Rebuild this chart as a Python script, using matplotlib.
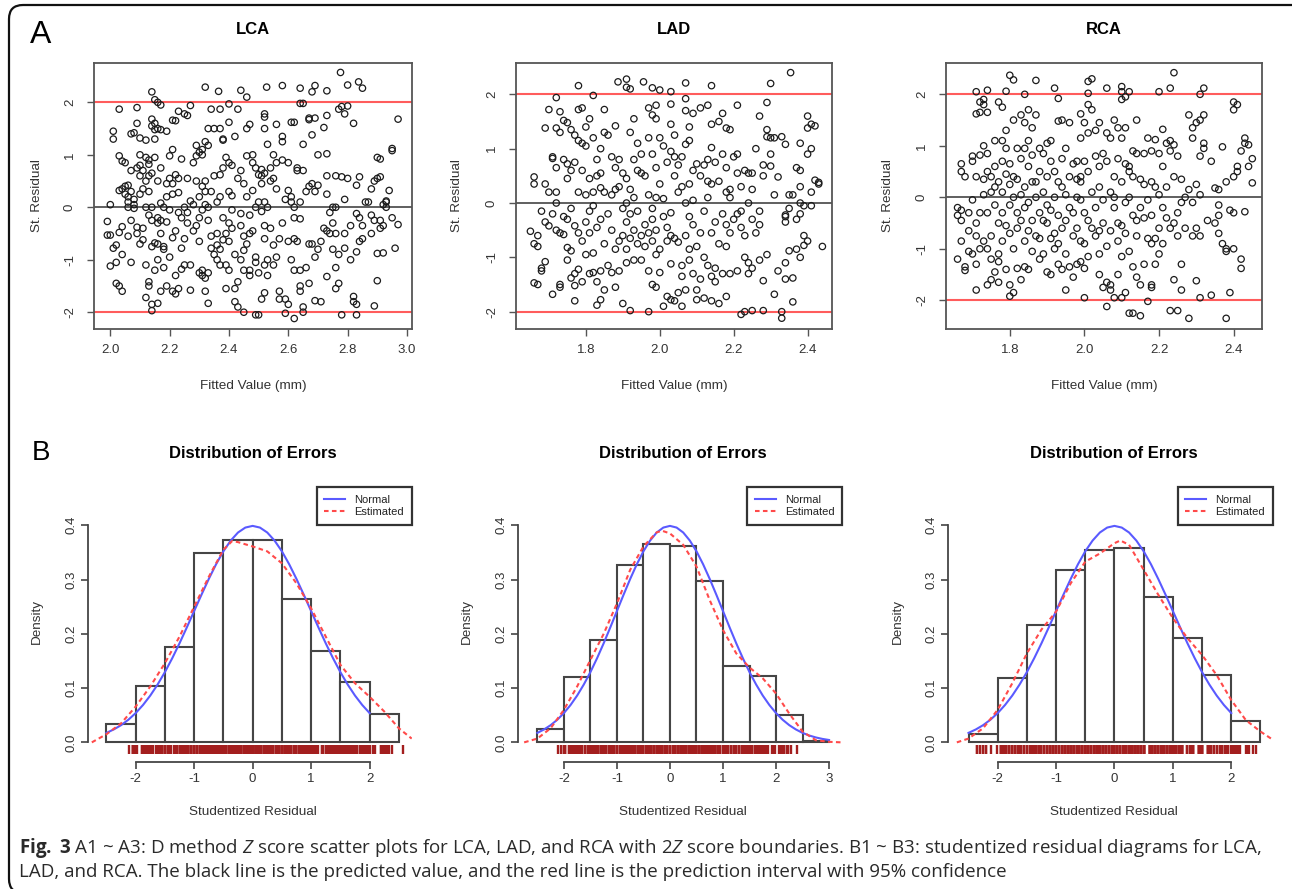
import numpy as np
import matplotlib
matplotlib.use('Agg')
import matplotlib.pyplot as plt
from matplotlib.patches import FancyBboxPatch
from matplotlib.transforms import IdentityTransform

plt.rcParams['font.family'] = ['Liberation Sans', 'DejaVu Sans']
plt.rcParams['axes.unicode_minus'] = False
plt.rcParams['mathtext.fontset'] = 'custom'
plt.rcParams['mathtext.rm'] = 'Open Sans'
plt.rcParams['mathtext.it'] = 'Open Sans:italic'
plt.rcParams['mathtext.bf'] = 'Open Sans:bold'

# ---- A panels: (fitted value, standardized residual) ----
lca_pts = [
    (2.14, 2.20), (2.15, 2.05), (2.16, 2.00), (2.17, 1.95), (2.03, 1.87), (2.09, 1.90), (2.23, 1.83), (2.25, 1.78),
    (2.26, 1.75), (2.27, 1.94), (2.32, 2.29), (2.365, 2.21), (2.34, 1.87), (2.37, 1.87), (2.40, 1.97), (2.43, 1.87),
    (2.44, 2.23), (2.46, 2.10), (2.527, 2.29), (2.58, 2.32), (2.64, 2.27), (2.65, 1.98), (2.64, 1.98), (2.69, 2.32),
    (2.68, 2.20), (2.73, 2.22), (2.776, 2.57), (2.80, 2.33), (2.837, 2.39), (2.85, 2.27), (2.78, 1.92), (2.79, 1.78),
    (2.80, 1.93), (2.77, 1.87), (2.82, 1.60), (2.97, 1.68), (2.73, 1.75), (2.72, 1.52), (2.69, 1.70), (2.67, 1.70),
    (2.67, 1.67), (2.62, 1.62), (2.61, 1.62), (2.52, 1.78), (2.52, 1.72), (2.52, 1.50), (2.56, 1.58), (2.47, 1.58),
    (2.46, 1.50), (2.40, 1.62), (2.35, 1.50), (2.33, 1.50), (2.37, 1.50), (2.21, 1.66), (2.22, 1.65), (2.19, 1.45),
    (2.14, 1.68), (2.15, 1.60), (2.14, 1.55), (2.16, 1.50), (2.15, 1.48), (2.17, 1.48), (2.09, 1.60), (2.01, 1.45),
    (2.01, 1.30), (2.07, 1.40), (2.08, 1.42), (2.10, 1.32), (2.12, 1.28), (2.15, 1.30),
    (2.00, 0.05), (1.99, -0.27), (1.99, -0.53), (2.00, -0.53), (2.01, -0.78), (2.00, -1.12), (2.02, -1.05), (2.02, -0.72),
    (2.03, -0.48), (2.02, -1.45), (2.03, -1.50), (2.04, -1.60), (2.03, 0.98), (2.04, 0.88), (2.03, 0.32), (2.04, 0.35),
    (2.04, -0.37), (2.04, -0.90), (2.05, 0.25), (2.05, 0.40),
    (2.05, 0.85), (2.06, 0.20), (2.06, 0.10), (2.06, 0.00), (2.06, 0.42), (2.06, -0.55), (2.07, 0.30), (2.07, 0.70),
    (2.08, 0.05), (2.07, -0.25), (2.07, -1.05), (2.08, 0.15), (2.09, 0.75), (2.09, -0.50), (2.08, -0.02), (2.10, 0.80),
    (2.10, 1.00), (2.09, -0.38),
    (2.10, 0.60), (2.11, 0.70), (2.10, 0.25), (2.11, -0.40), (2.11, -0.62), (2.10, -0.70), (2.12, 0.00), (2.12, -1.10),
    (2.12, -1.72), (2.13, -1.42), (2.13, -1.50), (2.14, -1.85), (2.14, -1.97), (2.12, 0.95), (2.13, 0.90), (2.13, 0.82),
    (2.13, 0.60), (2.13, 0.30), (2.13, -0.15), (2.14, 0.00), (2.14, -0.25), (2.14, -0.75), (2.12, 0.50), (2.11, 0.35),
    (2.14, 0.65), (2.15, -0.68),
    (2.15, 0.95), (2.16, 0.50), (2.16, -0.20), (2.16, -0.30), (2.16, -0.70), (2.15, -1.20), (2.16, -1.00), (2.17, 0.75),
    (2.17, 0.08), (2.17, -0.50), (2.18, -0.75), (2.18, -0.80), (2.18, -1.15), (2.17, -1.60), (2.16, -1.83), (2.19, -1.50),
    (2.19, 0.45), (2.19, 0.20), (2.19, -0.28), (2.20, -0.05), (2.20, 0.98), (2.20, 0.55), (2.20, -0.95), (2.18, 0.00),
    (2.17, -0.25),
    (2.21, 1.10), (2.21, 0.25), (2.21, -0.58), (2.22, -1.30), (2.21, -1.60), (2.22, -1.65), (2.23, -1.55), (2.22, 0.62),
    (2.23, 0.55), (2.23, 0.28), (2.23, -0.10), (2.24, -0.20), (2.24, -0.78), (2.25, -0.60), (2.25, -1.10), (2.24, -1.18),
    (2.24, 0.92), (2.25, 0.00), (2.22, -0.45), (2.21, 0.45),
    (2.26, -0.10), (2.26, -0.30), (2.27, 0.12), (2.27, -1.10), (2.28, -0.45), (2.29, -0.35), (2.28, 0.85), (2.29, 0.50),
    (2.29, 1.18), (2.29, 0.98), (2.30, 1.05), (2.30, 0.20), (2.28, 0.05), (2.27, -1.58), (2.30, -1.25), (2.30, -0.20),
    (2.26, 0.55), (2.30, -0.65),
    (2.31, 1.00), (2.31, 1.10), (2.32, 1.25), (2.32, 0.50), (2.31, 0.40), (2.32, 0.05), (2.33, -0.25), (2.31, -1.20),
    (2.31, -1.30), (2.32, -1.35), (2.33, -1.25), (2.32, -1.60), (2.33, -1.83), (2.33, 0.00), (2.34, 0.30), (2.34, -0.55),
    (2.34, -0.78), (2.33, 1.18), (2.35, 0.60), (2.35, -0.90), (2.31, -0.05), (2.32, 0.30),
    (2.36, 0.10), (2.36, -0.50), (2.36, -0.72), (2.37, -0.80), (2.37, -1.10), (2.36, -1.00), (2.37, 0.20), (2.37, 0.62),
    (2.38, 1.28), (2.38, 1.30), (2.38, 0.75), (2.38, -0.20), (2.39, -0.50), (2.39, -1.10), (2.39, -1.55), (2.38, -0.62),
    (2.39, 0.95), (2.40, 0.85), (2.40, 0.30), (2.40, -0.30), (2.40, -0.65), (2.40, -1.20),
    (2.41, 0.22), (2.41, -0.05), (2.41, -0.40), (2.41, 0.80), (2.42, 1.35), (2.42, -0.90), (2.42, -1.55), (2.43, -1.42),
    (2.42, -1.80), (2.43, -1.90), (2.44, 0.70), (2.44, -0.12), (2.44, -0.35), (2.43, 0.55), (2.45, 0.45), (2.45, -0.55),
    (2.45, -0.82), (2.45, -1.20), (2.45, -2.00), (2.44, -1.00),
    (2.46, 0.98), (2.46, 0.20), (2.46, -0.70), (2.47, -0.50), (2.47, -1.20), (2.47, -1.30), (2.48, 1.00), (2.48, 0.32),
    (2.48, -0.45), (2.49, -0.95), (2.49, -1.05), (2.49, -2.05), (2.49, 0.75), (2.50, 0.62), (2.50, 0.10), (2.50, -1.25),
    (2.50, -2.05), (2.48, 0.85), (2.47, -0.15), (2.49, 0.00),
    (2.51, 0.60), (2.51, 0.72), (2.52, 0.65), (2.51, 0.45), (2.52, 0.10), (2.51, -0.08), (2.52, -0.35), (2.52, -0.60),
    (2.52, -1.10), (2.53, -1.00), (2.53, -1.30), (2.52, -1.63), (2.51, -1.75), (2.53, 1.20), (2.54, 0.75), (2.54, 0.50),
    (2.53, 0.00), (2.54, -0.40), (2.55, -0.72), (2.55, -1.10), (2.55, 0.55), (2.55, 1.00),
    (2.56, 0.85), (2.56, 0.35), (2.57, -0.60), (2.56, -0.95), (2.57, -1.60), (2.57, -1.75), (2.58, -0.30), (2.58, 0.90),
    (2.58, 1.25), (2.58, 1.35), (2.59, -1.75), (2.59, -2.02), (2.60, 0.32), (2.59, 0.15), (2.60, 0.85), (2.60, -0.65),
    (2.60, -1.85),
    (2.61, 0.20), (2.61, 0.10), (2.62, -0.20), (2.62, -0.60), (2.62, -1.20), (2.61, -1.00), (2.62, -2.12), (2.63, 0.75),
    (2.63, 0.70), (2.63, -0.65), (2.64, -0.22), (2.64, 0.10), (2.64, -1.50), (2.64, -1.60), (2.65, -2.00), (2.65, -1.90),
    (2.64, -1.20), (2.65, 0.70), (2.65, 1.20), (2.62, 0.00),
    (2.66, 0.30), (2.66, -1.15), (2.67, 0.40), (2.67, -0.70), (2.67, -1.45), (2.68, 0.45), (2.68, 1.38), (2.68, -0.70),
    (2.69, -0.95), (2.69, -1.78), (2.69, 0.30), (2.70, 1.00), (2.70, 0.42), (2.70, -0.80),
    (2.71, -0.65), (2.71, -1.80), (2.72, -0.40), (2.73, 0.60), (2.73, 1.02), (2.73, -0.45), (2.73, -1.32), (2.73, 0.25),
    (2.74, -0.50), (2.74, -0.10), (2.75, -0.80), (2.75, 0.00),
    (2.75, -0.30), (2.76, 0.60), (2.76, 0.00), (2.76, -0.50), (2.76, -1.15), (2.76, -1.55), (2.77, -0.90), (2.77, -1.45),
    (2.78, 0.58), (2.78, -2.05), (2.79, 0.15), (2.79, -0.50), (2.79, -0.78), (2.80, 0.55),
    (2.81, -0.35), (2.81, -1.00), (2.82, -1.70), (2.82, -1.80), (2.83, -1.85), (2.83, -2.05), (2.83, -0.12), (2.83, -0.85),
    (2.83, 0.42), (2.84, 0.58), (2.84, -0.20), (2.84, -0.65), (2.85, -0.35), (2.85, -0.60),
    (2.86, 0.10), (2.87, 0.10), (2.88, -0.15), (2.88, -0.50), (2.88, 0.35), (2.89, 0.50), (2.89, -1.88), (2.89, -0.25),
    (2.90, 0.55), (2.90, 0.95), (2.90, -0.88), (2.90, -1.40),
    (2.91, 0.92), (2.91, 0.58), (2.91, -0.25), (2.91, -0.40), (2.92, 0.05), (2.92, -0.87), (2.92, -0.35), (2.93, 0.10),
    (2.93, 0.12), (2.93, 0.00), (2.94, 0.32), (2.95, 1.08), (2.95, 1.12), (2.95, -0.20), (2.96, -0.78), (2.97, -0.33),
]

lad_pts = [
    (1.78, 2.16), (1.72, 1.94), (1.82, 1.98), (1.887, 2.23), (1.91, 2.28), (1.91, 2.13), (1.92, 2.10), (1.956, 2.23),
    (1.98, 2.12), (2.00, 2.08), (2.03, 2.05), (2.07, 2.21), (2.07, 1.92), (2.14, 2.16), (2.30, 2.20), (2.354, 2.40),
    (2.29, 1.85),
    (1.65, -0.52), (1.66, 0.48), (1.66, 0.35), (1.66, -0.75), (1.66, -1.47), (1.67, -0.80), (1.67, -1.50), (1.67, -0.60),
    (1.68, -0.15), (1.68, -1.25), (1.68, -1.20), (1.69, 1.38), (1.69, 0.35), (1.69, -1.08), (1.69, -0.35), (1.70, 1.72),
    (1.70, 0.20), (1.70, -0.42),
    (1.71, 0.85), (1.71, 0.82), (1.71, -0.20), (1.71, -1.68), (1.72, 1.38), (1.72, 0.65), (1.72, 0.20), (1.72, 0.00),
    (1.72, -0.50), (1.73, 1.30), (1.73, 1.68), (1.73, -0.55), (1.73, -1.50), (1.73, -1.55), (1.74, 1.52), (1.74, 0.80),
    (1.74, -0.25), (1.74, -0.58), (1.75, 1.48), (1.75, 0.72), (1.75, 0.45), (1.75, -0.30), (1.75, -1.05), (1.75, -0.82),
    (1.76, 0.60), (1.76, -0.10), (1.76, -0.88), (1.76, -1.38), (1.77, 1.25), (1.77, 0.75), (1.77, -0.42), (1.77, -1.30),
    (1.77, -1.52), (1.77, -1.80), (1.78, 1.72), (1.78, 1.15), (1.78, 0.20), (1.78, -0.55), (1.78, -1.22), (1.79, 1.75),
    (1.79, 1.10), (1.79, -0.70), (1.79, -1.45), (1.80, 1.40), (1.80, 1.05), (1.80, 0.15), (1.80, -0.95), (1.80, -0.35),
    (1.79, 0.60), (1.76, 1.35),
    (1.81, 1.55), (1.81, 0.45), (1.81, -0.15), (1.81, -0.55), (1.81, -1.30), (1.82, 1.20), (1.82, 0.20), (1.82, -0.92),
    (1.82, -1.28), (1.83, 0.80), (1.83, 0.50), (1.83, -0.45), (1.83, -1.45), (1.83, -1.88), (1.84, 1.00), (1.84, 0.28),
    (1.84, -0.30), (1.84, -1.25), (1.84, -1.78), (1.85, 1.72), (1.85, 1.30), (1.85, 0.20), (1.85, -0.75), (1.85, -1.60),
    (1.84, 0.55), (1.82, -0.05),
    (1.86, 1.25), (1.86, -0.20), (1.86, -1.15), (1.87, 0.85), (1.87, 0.15), (1.87, -0.50), (1.87, -1.28), (1.88, 1.42),
    (1.88, 0.25), (1.88, -0.85), (1.88, -1.55), (1.89, 0.80), (1.89, 0.30), (1.89, -0.70), (1.89, -1.25), (1.90, 0.55),
    (1.90, -0.10), (1.90, -0.60), (1.90, -1.85), (1.88, 0.65),
    (1.91, 0.45), (1.91, 0.00), (1.91, -0.35), (1.91, -0.85), (1.91, -1.10), (1.92, 1.30), (1.92, 0.25), (1.92, -0.20),
    (1.92, -0.65), (1.92, -1.98), (1.93, 1.55), (1.93, 0.80), (1.93, -0.50), (1.93, -1.05), (1.94, 1.10), (1.94, 0.60),
    (1.94, -0.15), (1.94, -0.75), (1.95, 0.90), (1.95, 0.55), (1.95, -0.60), (1.95, -1.05), (1.93, 0.10),
    (1.96, 0.50), (1.96, -0.40), (1.96, -0.80), (1.97, 1.75), (1.97, 1.20), (1.97, 0.15), (1.97, -0.55), (1.97, -1.25),
    (1.97, -2.00), (1.98, 1.62), (1.98, 0.90), (1.98, -0.10), (1.98, -0.70), (1.98, -1.50), (1.99, 1.55), (1.99, 0.65),
    (1.99, 0.10), (1.99, -0.50), (1.99, -0.95), (1.99, -1.55), (2.00, 1.20), (2.00, 0.35), (2.00, -0.85), (2.00, -1.28),
    (1.99, 1.80), (1.98, -0.30),
    (2.01, 1.05), (2.01, 0.08), (2.01, -0.25), (2.01, -1.90), (2.02, 0.75), (2.02, -0.45), (2.02, -0.70), (2.02, -1.72),
    (2.03, 1.45), (2.03, 0.95), (2.03, -0.18), (2.03, -0.60), (2.03, -1.12), (2.03, -1.78), (2.04, 1.25), (2.04, 0.50),
    (2.04, -0.65), (2.04, -1.80), (2.05, 0.70), (2.05, 0.20), (2.05, -0.72), (2.05, -1.65), (2.04, 0.85), (2.03, 1.82),
    (2.06, 0.85), (2.06, 0.30), (2.06, -1.35), (2.06, -1.90), (2.06, -1.15), (2.07, 1.70), (2.07, 1.08), (2.07, 0.00),
    (2.07, -0.60), (2.07, -1.60), (2.08, 1.40), (2.08, 0.35), (2.08, -0.25), (2.08, -0.85), (2.08, -1.05), (2.09, 1.65),
    (2.09, 0.05), (2.09, -0.40), (2.09, -1.30), (2.10, 0.72), (2.10, -0.80), (2.10, -1.60), (2.10, -1.78), (2.08, 1.15),
    (2.09, 0.60),
    (2.11, 1.75), (2.11, 0.50), (2.11, -0.55), (2.11, -1.40), (2.12, 0.70), (2.12, -0.15), (2.12, -1.00), (2.12, -1.75),
    (2.13, 1.80), (2.13, 0.80), (2.13, 0.40), (2.13, -1.15), (2.14, 1.45), (2.14, 1.02), (2.14, 0.35), (2.14, -0.55),
    (2.14, -1.35), (2.15, 0.75), (2.15, -0.35), (2.15, -1.20), (2.15, -1.45), (2.14, -1.80), (2.13, 0.10),
    (2.16, 1.50), (2.16, 0.40), (2.16, -0.75), (2.16, -1.85), (2.17, 0.90), (2.17, -0.20), (2.17, -1.30), (2.18, 1.38),
    (2.18, 0.65), (2.18, 0.20), (2.18, -0.40), (2.18, -0.80), (2.18, -1.72), (2.19, 1.35), (2.19, 0.10), (2.19, -0.55),
    (2.19, -1.30), (2.20, 0.85), (2.20, -0.30), (2.17, 1.65), (2.19, 0.25),
    (2.21, 1.80), (2.21, 0.90), (2.21, 0.55), (2.21, -0.20), (2.21, -1.25), (2.22, 0.30), (2.22, -0.45), (2.22, -2.05),
    (2.22, -0.15), (2.23, 0.60), (2.23, -0.60), (2.23, -1.00), (2.23, -2.00), (2.24, 0.55), (2.24, 0.00), (2.24, -1.10),
    (2.25, 0.55), (2.25, 0.25), (2.25, -0.30), (2.25, -1.20), (2.25, -1.98), (2.24, -1.30),
    (2.26, -0.55), (2.26, 1.00), (2.27, 1.60), (2.27, -0.15), (2.27, -0.40), (2.27, -1.05), (2.28, 0.70), (2.28, 0.50),
    (2.28, -1.98), (2.28, -1.43), (2.29, 1.22), (2.29, -0.95), (2.30, 1.20), (2.30, 0.90), (2.30, 0.68), (2.29, 1.35),
    (2.31, 0.15), (2.31, -1.68), (2.31, 1.20), (2.32, -1.25), (2.32, 0.48), (2.33, 1.22), (2.33, -2.12), (2.33, -2.00),
    (2.34, 1.08), (2.34, -0.22), (2.34, -0.25), (2.34, -0.35), (2.34, -1.10), (2.34, -1.40), (2.35, 0.15), (2.35, -0.10),
    (2.35, -0.88),
    (2.36, 0.15), (2.36, -1.38), (2.36, -1.82), (2.37, 0.65), (2.37, -0.30), (2.37, -0.85), (2.38, 1.10), (2.38, 0.30),
    (2.38, 0.00), (2.38, -0.20), (2.38, -1.00), (2.38, 0.60), (2.39, -0.05), (2.39, -0.60), (2.39, -0.78), (2.40, 1.60),
    (2.40, 1.38), (2.40, -0.70), (2.40, 0.90), (2.41, 1.45), (2.41, 1.00), (2.41, 0.20), (2.41, -0.05), (2.42, 0.42),
    (2.42, 1.42), (2.43, 0.35), (2.43, 0.38), (2.44, -0.80),
]

rca_pts = [
    (1.80, 2.37), (1.81, 2.28), (1.87, 2.27), (1.71, 2.05), (1.74, 2.08), (1.72, 1.85), (1.73, 1.90), (1.79, 2.06),
    (1.84, 2.00), (1.92, 2.12), (1.93, 1.92), (2.01, 2.25), (2.02, 2.30), (2.01, 2.02), (2.06, 2.12), (2.10, 2.15),
    (2.10, 2.05), (2.11, 1.95), (2.10, 1.90), (2.12, 2.05), (2.20, 2.05), (2.23, 2.12), (2.24, 2.42), (2.31, 2.00),
    (2.32, 2.12), (2.40, 1.85), (2.41, 1.80), (2.40, 1.70),
    (1.66, -0.20), (1.66, -0.35), (1.66, -1.20), (1.67, 0.65), (1.67, 0.50), (1.67, -0.25), (1.67, -0.45), (1.67, -0.85),
    (1.68, 0.40), (1.68, -1.35), (1.68, -1.42), (1.69, -0.65), (1.69, -0.30), (1.69, -1.05), (1.70, 0.80), (1.70, 0.70),
    (1.70, -0.05), (1.70, -1.10),
    (1.71, 1.62), (1.71, 0.40), (1.71, -0.50), (1.71, -0.75), (1.71, -1.30), (1.71, -1.80), (1.72, 1.65), (1.72, 0.82),
    (1.72, -0.30), (1.72, -1.00), (1.73, 1.80), (1.73, 1.00), (1.73, 0.35), (1.73, 0.05), (1.73, -0.85), (1.74, 1.65),
    (1.74, 0.85), (1.74, 0.50), (1.74, -0.30), (1.74, -1.00), (1.74, -1.70), (1.75, 0.40), (1.75, 0.10), (1.75, -0.75),
    (1.75, -1.60), (1.75, -1.20),
    (1.76, 1.10), (1.76, 0.60), (1.76, 0.20), (1.76, -0.15), (1.76, -1.45), (1.77, 1.85), (1.77, 0.30), (1.77, -0.50),
    (1.77, -1.10), (1.77, -1.25), (1.77, -1.65), (1.78, 1.75), (1.78, 1.10), (1.78, 0.70), (1.78, 0.10), (1.78, -0.30),
    (1.78, -0.85), (1.79, 1.30), (1.79, 0.45), (1.79, -0.55), (1.79, -1.40), (1.80, 0.65), (1.80, 0.25), (1.80, -0.15),
    (1.80, -0.70), (1.80, -1.70), (1.80, -1.92), (1.79, 0.95),
    (1.81, 1.50), (1.81, 0.40), (1.81, 0.00), (1.81, -1.00), (1.81, -1.85), (1.82, 0.95), (1.82, 0.35), (1.82, -0.30),
    (1.82, -0.60), (1.82, -1.38), (1.83, 1.60), (1.83, 0.75), (1.83, 0.05), (1.83, -0.45), (1.83, -1.60), (1.84, 1.45),
    (1.84, 0.20), (1.84, -0.20), (1.84, -0.85), (1.84, -1.35), (1.85, 1.70), (1.85, 1.10), (1.85, 0.60), (1.85, -0.10),
    (1.85, -0.65), (1.85, -1.40), (1.84, 0.95),
    (1.86, 1.35), (1.86, 0.82), (1.86, 0.30), (1.86, -0.45), (1.86, -1.05), (1.87, 1.60), (1.87, 0.00), (1.87, -0.75),
    (1.88, 0.95), (1.88, 0.50), (1.88, -0.30), (1.88, -0.80), (1.88, -1.20), (1.89, 0.85), (1.89, 0.10), (1.89, -0.45),
    (1.89, -1.10), (1.90, 1.05), (1.90, 0.40), (1.90, -0.15), (1.90, -0.50), (1.90, -1.45), (1.87, 0.30),
    (1.91, 1.10), (1.91, 0.70), (1.91, -0.25), (1.91, -0.80), (1.91, -1.50), (1.92, 0.50), (1.92, 0.00), (1.92, -0.70),
    (1.92, -1.00), (1.93, 1.48), (1.93, 0.30), (1.93, -0.35), (1.93, -0.90), (1.93, -1.30), (1.94, 1.50), (1.94, 0.75),
    (1.94, 0.20), (1.94, -0.60), (1.94, -1.40), (1.95, 0.95), (1.95, 0.05), (1.95, -0.45), (1.95, -1.10), (1.95, -1.80),
    (1.96, 1.45), (1.96, 0.40), (1.96, -0.20), (1.96, -1.35), (1.97, 0.65), (1.97, -0.30), (1.97, -0.75), (1.97, -1.55),
    (1.98, 0.70), (1.98, 0.00), (1.98, -0.60), (1.98, -1.30), (1.99, 1.62), (1.99, 1.15), (1.99, 0.40), (1.99, 0.30),
    (1.99, -0.05), (1.99, -0.85), (1.99, -1.25), (2.00, 1.45), (2.00, 0.70), (2.00, -0.30), (2.00, -0.90), (2.00, -1.38),
    (2.00, -1.95), (1.98, 0.35),
    (2.01, 1.80), (2.01, 1.25), (2.01, 0.50), (2.01, -0.45), (2.01, -1.15), (2.02, 1.70), (2.02, 0.10), (2.02, -0.60),
    (2.03, 1.30), (2.03, 0.80), (2.03, -0.20), (2.03, -0.75), (2.04, 1.45), (2.04, 0.60), (2.04, 0.20), (2.04, -0.65),
    (2.04, -1.10), (2.04, -1.50), (2.05, 0.85), (2.05, -0.05), (2.05, -0.50), (2.05, -1.75),
    (2.06, 1.25), (2.06, 0.70), (2.06, -0.95), (2.06, -1.65), (2.06, -2.12), (2.07, 1.15), (2.07, 0.10), (2.07, -0.65),
    (2.07, -1.70), (2.07, -1.80), (2.08, 1.50), (2.08, 0.40), (2.08, -0.20), (2.08, -1.95), (2.09, 1.35), (2.09, 0.75),
    (2.09, -0.50), (2.09, -0.85), (2.09, -1.50), (2.10, 1.15), (2.10, 0.30), (2.10, -0.55), (2.10, -1.15), (2.10, -1.95),
    (2.08, 0.00),
    (2.11, 1.35), (2.11, 0.65), (2.11, -0.10), (2.11, -0.70), (2.11, -1.85), (2.12, 0.50), (2.12, 0.00), (2.12, -1.05),
    (2.12, -2.25), (2.13, 0.90), (2.13, 0.40), (2.13, -0.35), (2.13, -1.35), (2.13, -2.25), (2.14, 1.50), (2.14, 0.85),
    (2.14, -0.45), (2.14, -0.75), (2.14, -1.55), (2.15, 0.35), (2.15, -0.20), (2.15, -1.70), (2.15, -2.30), (2.12, 0.60),
    (2.16, 0.85), (2.16, 0.25), (2.16, -0.40), (2.16, -1.30), (2.17, 1.15), (2.17, -0.05), (2.17, -0.80), (2.17, -2.02),
    (2.18, 0.90), (2.18, 0.30), (2.18, -0.35), (2.18, -0.90), (2.18, -1.75), (2.19, 1.12), (2.19, 0.20), (2.19, -0.80),
    (2.19, -1.30), (2.20, 0.85), (2.20, 0.05), (2.20, -0.60), (2.20, -1.10), (2.18, -1.70),
    (2.21, 1.32), (2.21, 0.60), (2.21, -0.20), (2.21, -0.90), (2.22, 0.20), (2.22, -0.40), (2.22, 1.05), (2.23, 0.90),
    (2.23, -0.60), (2.23, -2.20), (2.23, 1.10), (2.24, 1.02), (2.24, 0.40), (2.24, -0.50), (2.24, -1.60), (2.25, 0.80),
    (2.25, -0.30), (2.25, -0.75), (2.25, -2.20),
    (2.26, 0.35), (2.26, -0.10), (2.26, -1.30), (2.26, -1.80), (2.27, 0.00), (2.27, -0.60), (2.28, 1.60), (2.28, 0.15),
    (2.28, -2.35), (2.29, 1.35), (2.29, 1.15), (2.29, -0.10), (2.29, -0.75), (2.30, 1.45), (2.30, 0.25), (2.30, -0.60),
    (2.30, -1.62),
    (2.31, 1.50), (2.31, 0.80), (2.31, 0.05), (2.31, -0.75), (2.31, -1.95), (2.32, 1.60), (2.32, 1.05), (2.32, 0.95),
    (2.33, -0.45), (2.34, 0.70), (2.34, -1.90), (2.35, 0.18), (2.35, -0.50),
    (2.36, 0.15), (2.36, -0.15), (2.36, -0.35), (2.36, -0.70), (2.37, -0.90), (2.37, 0.98), (2.38, -1.00), (2.38, -1.05),
    (2.38, 0.30), (2.38, -2.35), (2.39, -1.85), (2.39, -0.25), (2.40, -0.30), (2.40, 0.40), (2.40, -1.00), (2.41, 0.60),
    (2.41, 0.50), (2.42, -1.20), (2.42, -1.38), (2.42, 0.90), (2.43, 1.15), (2.43, 1.05), (2.43, -0.28), (2.44, 0.60),
    (2.44, 1.02), (2.45, 0.75), (2.45, 0.28),
]

# ---- B panels: histogram densities, kernel estimate, normal reference ----
lca_breaks = [-2.5, -2.0, -1.5, -1.0, -0.5, 0.0, 0.5, 1.0, 1.5, 2.0, 2.5]
lca_density = [0.034, 0.103, 0.175, 0.349, 0.372, 0.372, 0.265, 0.168, 0.112, 0.052]
lad_breaks = [-2.5, -2.0, -1.5, -1.0, -0.5, 0.0, 0.5, 1.0, 1.5, 2.0, 2.5, 3.0]
lad_density = [0.024, 0.120, 0.188, 0.326, 0.365, 0.362, 0.298, 0.141, 0.123, 0.050, 0.003]
rca_breaks = [-2.5, -2.0, -1.5, -1.0, -0.5, 0.0, 0.5, 1.0, 1.5, 2.0, 2.5]
rca_density = [0.015, 0.118, 0.217, 0.318, 0.354, 0.358, 0.267, 0.193, 0.124, 0.040]

lca_est_x = [-2.75, -2.5, -2.25, -2.0, -1.75, -1.5, -1.25, -1.0, -0.75, -0.5, -0.35, -0.25, 0.0, 0.25,
             0.5, 0.75, 1.0, 1.25, 1.5, 1.75, 2.0, 2.25, 2.5, 2.72]
lca_est_y = [0.0, 0.015, 0.035, 0.066, 0.103, 0.146, 0.195, 0.25, 0.305, 0.355, 0.371, 0.369, 0.361, 0.352,
             0.33, 0.293, 0.247, 0.195, 0.143, 0.109, 0.084, 0.057, 0.026, 0.007]
lad_est_x = [-2.75, -2.5, -2.25, -2.0, -1.75, -1.5, -1.25, -1.0, -0.75, -0.5, -0.25, -0.15, 0.0, 0.25,
             0.5, 0.75, 1.0, 1.25, 1.5, 1.75, 2.0, 2.25, 2.5, 2.75, 3.0, 3.25]
lad_est_y = [0.0, 0.007, 0.026, 0.06, 0.103, 0.152, 0.2, 0.256, 0.318, 0.361, 0.387, 0.39, 0.385, 0.364,
             0.324, 0.262, 0.207, 0.164, 0.138, 0.118, 0.09, 0.053, 0.02, 0.004, 0.001, 0.0]
rca_est_x = [-2.7, -2.5, -2.25, -2.0, -1.75, -1.5, -1.25, -1.0, -0.75, -0.5, -0.25, 0.0, 0.1, 0.25,
             0.5, 0.75, 1.0, 1.25, 1.5, 1.75, 2.0, 2.25, 2.5, 2.71]
rca_est_y = [0.0, 0.007, 0.026, 0.06, 0.109, 0.164, 0.208, 0.241, 0.293, 0.333, 0.348, 0.367, 0.372, 0.364,
             0.318, 0.272, 0.229, 0.192, 0.161, 0.124, 0.078, 0.041, 0.02, 0.005]

normal_x = np.linspace(-2.5, 3.0, 45)
normal_y = [0.0175, 0.0238, 0.0317, 0.0417, 0.0540, 0.0688, 0.0863, 0.1066, 0.1295, 0.1550, 0.1826, 0.2119,
            0.2420, 0.2720, 0.3011, 0.3282, 0.3521, 0.3718, 0.3867, 0.3958, 0.3989, 0.3958, 0.3867, 0.3718,
            0.3521, 0.3282, 0.3011, 0.2720, 0.2420, 0.2119, 0.1826, 0.1550, 0.1295, 0.1066, 0.0863, 0.0688,
            0.0540, 0.0417, 0.0317, 0.0238, 0.0175, 0.0127, 0.0091, 0.0064, 0.0044]

caption1 = (r"$\mathbf{Fig.}$ $\mathbf{3}$ A1 ~ A3: D method $\mathit{Z}$ score scatter plots for LCA, LAD, and RCA "
            r"with 2$\mathit{Z}$ score boundaries. B1 ~ B3: studentized residual diagrams for LCA,")
caption2 = "LAD, and RCA. The black line is the predicted value, and the red line is the prediction interval with 95% confidence"

W, H = 1292, 889
fig = plt.figure(figsize=(W / 100, H / 100), dpi=100)
fig.patch.set_facecolor('white')


def rect(l, r, t, b):
    return [l / W, 1 - b / H, (r - l) / W, (b - t) / H]


def ftext(x, y, s, **kw):
    kw.setdefault('ha', 'center')
    kw.setdefault('va', 'center')
    return fig.text(x / W, 1 - y / H, s, **kw)


TICKC = '#333333'


def scatter_panel(box, pts, xlim, ylim, xticks, title, cx, ylab_x):
    ax = fig.add_axes(box)
    x, y = np.array(pts).T
    ax.axhline(0, color='#444444', lw=1.2, zorder=1)
    ax.axhline(2, color='#ff5c5c', lw=1.5, zorder=1)
    ax.axhline(-2, color='#ff5c5c', lw=1.5, zorder=1)
    ax.scatter(x, y, s=21, facecolors='none', edgecolors='#1c1c1c', linewidths=0.9, zorder=2)
    ax.set_xlim(xlim)
    ax.set_ylim(ylim)
    ax.set_xticks(xticks)
    ax.set_xticklabels(['%.1f' % v for v in xticks])
    ax.set_yticks([-2, -1, 0, 1, 2])
    ax.set_yticklabels(['-2', '-1', '0', '1', '2'])
    for s in ax.spines.values():
        s.set_color('#555555')
        s.set_linewidth(1.3)
    ax.tick_params(axis='x', length=5, width=1, color='#555555', labelsize=9.5, labelcolor=TICKC, pad=6)
    ax.tick_params(axis='y', length=5, width=1, color='#555555', labelsize=9.5, labelcolor=TICKC, pad=8,
                   labelrotation=90)
    for lab in ax.get_yticklabels():
        lab.set_va('center')
    ftext(cx, 30, title, fontsize=12, fontweight='bold')
    ftext(cx, 386, 'Fitted Value (mm)', fontsize=9.7, color=TICKC)
    ftext(ylab_x, 196, 'St. Residual', fontsize=9.7, color=TICKC, rotation=90)
    return ax


def hist_panel(box, xlim, breaks, dens, est_x, est_y, rug, xmax, cx, ylab_x):
    ax = fig.add_axes(box)
    ax.bar(breaks[:-1], dens, width=np.diff(breaks), align='edge', facecolor='white',
           edgecolor='#454545', linewidth=1.5, zorder=1)
    keep = normal_x <= xmax + 1e-9
    ax.plot(normal_x[keep], np.array(normal_y)[keep], color='#5a5aff', lw=1.5, label='Normal', zorder=3)
    ax.plot(est_x, est_y, color='#ff4a4a', lw=1.5, ls=(0, (2.2, 1.6)), label='Estimated', zorder=4)
    ax.vlines(rug, -0.0215, -0.005, color='#a31e1e', lw=1.7, zorder=2)
    ax.set_xlim(xlim)
    ax.set_ylim(-0.0356, 0.47)
    xt = list(range(-2, xmax + 1))
    ax.set_xticks(xt)
    ax.set_xticklabels([str(v) for v in xt])
    ax.set_yticks([0, 0.1, 0.2, 0.3, 0.4])
    ax.set_yticklabels(['0.0', '0.1', '0.2', '0.3', '0.4'])
    ax.spines['top'].set_visible(False)
    ax.spines['right'].set_visible(False)
    ax.spines['left'].set_bounds(0, 0.4)
    ax.spines['bottom'].set_bounds(-2, xmax)
    for k in ('left', 'bottom'):
        ax.spines[k].set_color('#454545')
        ax.spines[k].set_linewidth(1.3)
    ax.tick_params(axis='x', length=5, width=1.2, color='#454545', labelsize=9.5, labelcolor=TICKC, pad=3)
    ax.tick_params(axis='y', length=5, width=1.2, color='#454545', labelsize=9.5, labelcolor=TICKC, pad=3,
                   labelrotation=90)
    for lab in ax.get_yticklabels():
        lab.set_va('center')
    leg = ax.legend(loc='upper right', bbox_to_anchor=(1, 1), borderaxespad=0, fancybox=False,
                    edgecolor='#333333', framealpha=1, fontsize=8, handlelength=1.9, handletextpad=0.8,
                    labelspacing=0.2, borderpad=0.7)
    leg.get_frame().set_linewidth(1.6)
    for t in leg.get_texts():
        t.set_color('#222222')
    ftext(cx, 454, 'Distribution of Errors', fontsize=12, fontweight='bold')
    ftext(cx, 812, 'Studentized Residual', fontsize=9.7, color=TICKC)
    ftext(ylab_x, 622, 'Density', fontsize=9.7, color=TICKC, rotation=90)
    return ax


scatter_panel(rect(94, 412, 63, 329), lca_pts, (1.945, 3.017), (-2.32, 2.75),
              [2.0, 2.2, 2.4, 2.6, 2.8, 3.0], 'LCA', 253, 37)
scatter_panel(rect(516, 832, 63, 329), lad_pts, (1.611, 2.466), (-2.319, 2.577),
              [1.8, 2.0, 2.2, 2.4], 'LAD', 674, 457)
scatter_panel(rect(946, 1262, 63, 329), rca_pts, (1.629, 2.476), (-2.557, 2.608),
              [1.8, 2.0, 2.2, 2.4], 'RCA', 1104, 888)

# rug under each histogram: the residuals of the matching model
hist_panel(rect(88.3, 411.7, 487.3, 761.7), (-2.81, 2.72), lca_breaks, lca_density,
           lca_est_x, lca_est_y, np.array(lca_pts)[:, 1], 2, 253, 37)
hist_panel(rect(518.3, 842.3, 487.3, 761.7), (-2.86, 3.25), lad_breaks, lad_density,
           lad_est_x, lad_est_y, np.array(lad_pts)[:, 1], 3, 683, 467)
hist_panel(rect(948.3, 1272.7, 487.3, 761.7), (-2.846, 2.71), rca_breaks, rca_density,
           rca_est_x, rca_est_y, np.array(rca_pts)[:, 1], 2, 1114, 898)

ftext(41, 35, 'A', fontsize=23)
ftext(41, 453, 'B', fontsize=20)

# caption, sized so that the first line spans the frame width
fig.canvas.draw()
renderer = fig.canvas.get_renderer()
cap1 = ftext(19, 848, caption1, ha='left', family='Open Sans', fontsize=12, color='#2a2a2a')
w = cap1.get_window_extent(renderer).width
fs = 12 * 1243 / w
cap1.set_fontsize(fs)
ftext(19, 872, caption2, ha='left', family='Open Sans', fontsize=fs, color='#2a2a2a')

frame = FancyBboxPatch((9, H - 893), 1310 - 9, 893 - 5, boxstyle='round,pad=0,rounding_size=14',
                       transform=IdentityTransform(), fill=False, lw=1.6, ec='#111111')
fig.add_artist(frame)

fig.savefig('out.png', dpi=100)
